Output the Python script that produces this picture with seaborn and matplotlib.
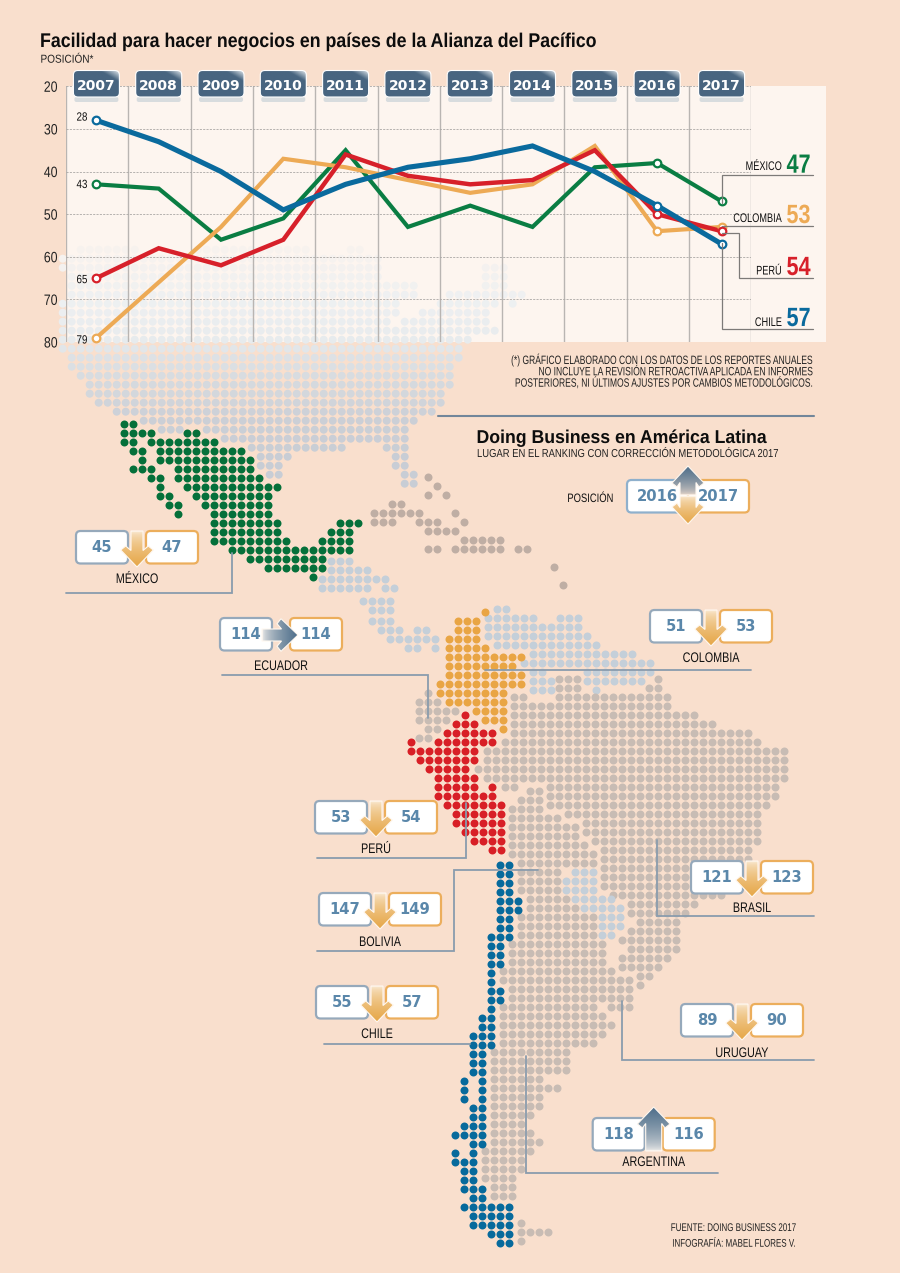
import numpy as np
import pandas as pd
import matplotlib
matplotlib.use("Agg")
import matplotlib.pyplot as plt
from matplotlib.patches import FancyBboxPatch, Polygon, Rectangle
from matplotlib.patheffects import AbstractPathEffect
from matplotlib.transforms import Affine2D
from matplotlib.colors import to_rgb
import seaborn as sns

# ---------- chart data ----------
YEARS = [2007, 2008, 2009, 2010, 2011, 2012, 2013, 2014, 2015, 2016, 2017]
MEXICO = [43, 44, 56, 51, 35, 53, 48, 53, 39, 38, 47]
COLOMBIA = [79, 66, 53, 37, 39, 42, 45, 43, 34, 54, 53]
PERU = [65, 58, 62, 56, 36, 41, 43, 42, 35, 50, 54]
CHILE = [28, 33, 40, 49, 43, 39, 37, 34, 40, 48, 57]
RANKINGS = [
    ("MÉXICO", 45, 47), ("ECUADOR", 114, 114), ("COLOMBIA", 51, 53), ("PERÚ", 53, 54),
    ("BOLIVIA", 147, 149), ("CHILE", 55, 57), ("BRASIL", 121, 123), ("URUGUAY", 89, 90),
    ("ARGENTINA", 118, 116),
]

# ---------- dot-map cells: {row: [(first column, last column), ...]} ----------
NORTH_AMERICA = {
    0: [(2, 8), (15, 27), (32, 33)], 1: [(0, 35)], 2: [(0, 35), (47, 49)], 3: [(1, 35), (47, 49)],
    4: [(1, 39), (47, 49)], 5: [(1, 39), (43, 51)], 6: [(0, 37), (42, 48), (50, 50)],
    7: [(0, 37), (40, 47)], 8: [(0, 36), (38, 47)], 9: [(0, 48)], 10: [(0, 45)], 11: [(0, 44)],
    12: [(1, 44)], 13: [(1, 43)], 14: [(2, 43)], 15: [(3, 43)], 16: [(3, 42)], 17: [(4, 42)],
    18: [(6, 41)], 19: [(9, 39)], 20: [(11, 13), (16, 38)], 21: [(18, 38)],
    22: [(21, 31), (36, 38)], 23: [(22, 25), (37, 38)], 24: [(22, 24), (37, 38)],
    25: [(23, 24), (38, 39)], 26: [(38, 39)],
}
MEXICO_CELLS = {
    0: [(0, 1)], 1: [(0, 3), (7, 8)], 2: [(0, 1), (3, 10)], 3: [(1, 2), (4, 13)], 4: [(2, 2), (4, 14)],
    5: [(1, 3), (6, 14)], 6: [(3, 4), (6, 15)], 7: [(4, 4), (7, 17)], 8: [(4, 5), (8, 16)],
    9: [(5, 6), (9, 16)], 10: [(6, 6), (10, 16)], 11: [(10, 17), (24, 26)], 12: [(10, 17), (23, 25)],
    13: [(10, 18), (22, 25)], 14: [(12, 25)], 15: [(14, 22)], 16: [(16, 22)], 17: [(21, 21)],
}
CENTRAL_A = {0: [(0, 2)], 1: [(0, 4)], 2: [(-1, 6)], 3: [(-1, 0), (1, 4), (6, 7)]}
CENTRAL_B = {0: [(-2, 1)], 1: [(-1, 1)]}
CENTRAL_C = {0: [(-1, 1)], 1: [(0, 2), (4, 5)], 2: [(1, 6)], 3: [(3, 4), (6, 6)]}
CARIBBEAN = {
    0: [(6, 6)], 1: [(7, 7)], 2: [(6, 6), (8, 8)], 3: [(2, 3)], 4: [(0, 5), (9, 9)],
    5: [(0, 2), (5, 7), (10, 10)], 6: [(6, 9)], 7: [(10, 14)], 8: [(6, 7), (9, 14), (16, 17)],
    10: [(20, 20)], 12: [(21, 21)],
}
COLOMBIA_CELLS = {
    -1: [(5, 5)], 0: [(2, 4)], 1: [(2, 4)], 2: [(1, 4)], 3: [(1, 5)], 4: [(1, 9)], 5: [(1, 8)],
    6: [(1, 9)], 7: [(0, 9)], 8: [(0, 7)], 9: [(1, 7)], 10: [(4, 7)], 11: [(5, 7)], 12: [(7, 7)],
}
NORTH_SA = {
    0: [(1, 2)], 1: [(0, 5), (8, 10)], 2: [(0, 10)], 3: [(0, 11)], 4: [(1, 12)], 5: [(5, 16)],
    6: [(4, 18)], 7: [(5, 6), (11, 18)], 8: [(5, 7), (11, 17)], 9: [(5, 7), (12, 12)],
}
ECUADOR_CELLS = {0: [(1, 1)], 1: [(0, 2)], 2: [(0, 4)], 3: [(0, 3)], 4: [(1, 2)], 5: [(0, 1)]}
PERU_CELLS = {
    0: [(6, 6)], 1: [(5, 7)], 2: [(4, 9)], 3: [(0, 0), (3, 9)], 4: [(0, 7)], 5: [(1, 7)], 6: [(2, 6)],
    7: [(3, 7)], 8: [(3, 7), (9, 9)], 9: [(3, 9)], 10: [(4, 10)], 11: [(5, 10)], 12: [(5, 10)],
    13: [(6, 10)], 14: [(7, 10)], 15: [(9, 10)],
}
BRAZIL_CELLS = {
    -3: [(5, 7), (16, 16)], -2: [(5, 7), (15, 16)], -1: [(0, 1), (5, 17)], 0: [(0, 17)], 1: [(0, 20)],
    2: [(0, 22)], 3: [(0, 26)], 4: [(-1, 27)], 5: [(-3, 30)], 6: [(-3, 30)], 7: [(-4, 30)], 8: [(-3, 30)],
    9: [(-1, 0), (4, 29)], 10: [(4, 29)], 11: [(4, 28)], 12: [(6, 27)], 13: [(8, 27)], 14: [(8, 27)],
    15: [(9, 27)], 16: [(10, 26)], 17: [(10, 26)], 18: [(10, 25)], 19: [(10, 25)], 20: [(10, 24)],
    21: [(11, 23)], 22: [(13, 20)], 23: [(13, 19)], 24: [(14, 18)], 25: [(13, 18)], 26: [(12, 18)],
    27: [(13, 18)], 28: [(12, 17)], 29: [(12, 16)], 30: [(14, 15)], 31: [(14, 14)],
}
SOUTH_CONE = {
    -6: [(2, 3)], -5: [(1, 3)], -4: [(0, 3)], -3: [(0, 5)], -2: [(0, 7)], -1: [(0, 7)], 0: [(0, 8)],
    1: [(0, 9)], 2: [(1, 9)], 3: [(1, 5)], 4: [(1, 5)], 5: [(1, 5)], 6: [(2, 6)], 7: [(2, 7)], 8: [(1, 9)],
    9: [(1, 9)], 10: [(1, 9)], 11: [(0, 10)], 12: [(0, 10)], 13: [(0, 10)], 14: [(-1, 11)],
    15: [(-1, 13)], 16: [(0, 13)], 17: [(0, 13)], 18: [(-1, 9), (11, 13)], 19: [(-1, 10)], 20: [(-1, 11)],
    21: [(-1, 10)], 22: [(-1, 9)], 23: [(-2, 6)], 24: [(-2, 6)], 25: [(-2, 6)], 26: [(-2, 3)],
    27: [(-2, 5)], 28: [(-2, 3)], 29: [(-2, 3)], 30: [(-2, 2)], 31: [(-2, 1)], 32: [(-2, 2)], 33: [(-2, 3)],
    34: [(-3, 2)], 35: [(-3, 1)], 36: [(-3, 1)], 37: [(-3, 0)], 38: [(-2, 0)], 39: [(-2, 0)],
    42: [(1, 1)], 43: [(1, 4)], 44: [(1, 1)],
}
PARAGUAY_CELLS = {3: [(7, 9)], 4: [(6, 9)], 5: [(6, 9)], 6: [(7, 11)], 7: [(8, 12)], 8: [(10, 12)],
                  9: [(10, 12)], 10: [(10, 11)]}
CHILE_CELLS = {
    0: [(1, 2)], 1: [(1, 2)], 2: [(1, 2)], 3: [(1, 2)], 4: [(1, 3)], 5: [(1, 3)], 6: [(1, 2)], 7: [(1, 2)],
    8: [(0, 2)], 9: [(0, 1)], 10: [(0, 1)], 11: [(0, 1)], 12: [(0, 0)], 13: [(0, 0)], 14: [(0, 1)],
    15: [(0, 1)], 16: [(0, 0)], 17: [(-1, 0)], 18: [(-1, 0)], 19: [(-2, 0)], 20: [(-2, 0)], 21: [(-2, -1)],
    22: [(-2, -1)], 23: [(-2, -1)], 24: [(-3, -3), (-1, -1)], 25: [(-3, -3), (-1, -1)],
    26: [(-3, -3), (-1, -1)], 27: [(-2, -1)], 28: [(-2, -1)], 29: [(-3, -1)], 30: [(-4, -1)], 31: [(-2, -1)],
    32: [(-4, -4), (-2, -2)], 33: [(-4, -2)], 34: [(-3, -2)], 35: [(-3, -2)], 36: [(-3, -1)], 37: [(-2, -1)],
    38: [(-3, 2)], 39: [(-2, 2)], 40: [(-2, 2)], 41: [(0, 2)], 42: [(1, 2)],
}

# ---------- style ----------
BG = "#f9dfcd"
PANEL = "#fdf5ef"
C_MX, C_CO, C_PE, C_CL = "#0a7d43", "#edaa55", "#d7202a", "#0a6a9d"
BROWN, CARIB, SLATE, DARK_GREEN = "#c8bcb4", "#bfaea4", "#c4cfd9", "#05703a"
SANS = ["Liberation Sans", "DejaVu Sans"]
BOLD = ["DejaVu Sans"]
NUM = "#5a87aa"
BLUE_EDGE, ORANGE_EDGE = "#96a9bb", "#ecae5c"
DOT = 33

sns.set_theme(style="white")
plt.rcParams["font.family"] = SANS
fig = plt.figure(figsize=(9, 12.73), dpi=100, facecolor=BG)


class Narrow(AbstractPathEffect):
    """Condense a text horizontally about its anchor (no narrow family is installed)."""

    def __init__(self, text, sx):
        super().__init__()
        self.text, self.sx = text, sx

    def draw_path(self, renderer, gc, tpath, affine, rgbFace=None):
        ax_px = self.text.get_transform().transform(self.text.get_unitless_position())[0]
        squeeze = Affine2D().translate(-ax_px, 0).scale(self.sx, 1).translate(ax_px, 0)
        renderer.draw_path(gc, tpath, affine + squeeze, rgbFace)


def narrow(t, sx):
    t.set_path_effects([Narrow(t, sx)])
    return t


# ---------- background map ----------
base = fig.add_axes([0, 0, 1, 1], zorder=0)
base.set_xlim(0, 900)
base.set_ylim(1273, 0)
base.axis("off")
base.add_patch(Rectangle((66, 86.3), 760, 255.5, fc=PANEL, ec="none", zorder=0))


def cells(table, x0, y0):
    pts = [(x0 + 9 * c, y0 + 9 * r) for r, runs in table.items() for a, b in runs for c in range(a, b + 1)]
    return pd.DataFrame(pts, columns=["x", "y"])


def dots(table, x0, y0, color):
    sns.scatterplot(data=cells(table, x0, y0), x="x", y="y", color=color, s=DOT, linewidth=0, ax=base,
                    legend=False, zorder=2)


def fade(y):
    stops_y = [245, 300, 345, 352, 420, 460]
    stops = [to_rgb(c) for c in ["#f8f2ee", "#eef0f1", "#e6eaed", "#dfe3e6", "#cbcfd6", "#c8cdd5"]]
    return tuple(np.interp(y, stops_y, [s[i] for s in stops]) for i in range(3))


na = cells(NORTH_AMERICA, 62.7, 249.7)
sns.scatterplot(data=na, x="x", y="y", hue="y", palette={v: fade(v) for v in na["y"].unique()}, s=DOT,
                linewidth=0, ax=base, legend=False, zorder=1)
dots(CENTRAL_A, 331, 560.7, SLATE)
dots(CENTRAL_B, 381.3, 600.7, SLATE)
dots(CENTRAL_C, 381.3, 621.3, SLATE)
dots(CARIBBEAN, 374, 477, CARIB)
dots(NORTH_SA, 488.3, 609.3, SLATE)
dots(ECUADOR_CELLS, 418.7, 692.7, BROWN)
dots(BRAZIL_CELLS, 514, 706, BROWN)
dots(SOUTH_CONE, 511.7, 844.7, BROWN)
dots(PARAGUAY_CELLS, 511.7, 844.7, SLATE)
dots(MEXICO_CELLS, 124, 423.7, DARK_GREEN)
dots(COLOMBIA_CELLS, 440, 621.3, "#e9a544")
dots(PERU_CELLS, 410.7, 714.7, "#d81f26")
dots(CHILE_CELLS, 491, 865, "#076a9c")
base.set_xlim(0, 900)
base.set_ylim(1273, 0)
base.set_xlabel("")
base.set_ylabel("")

# ---------- line chart ----------
ax = fig.add_axes([66 / 900, 1 - 342 / 1273, (751.3 - 66) / 900, (342 - 86.3) / 1273], zorder=1)
ax.patch.set_alpha(0)
idx = np.arange(len(YEARS), dtype=float)
idx[-1] += 0.035  # the last column of the original sits slightly right of the regular step
for name, vals, col, lw in [("México", MEXICO, C_MX, 3.0), ("Colombia", COLOMBIA, C_CO, 3.0),
                            ("Perú", PERU, C_PE, 3.2), ("Chile", CHILE, C_CL, 3.7)]:
    sns.lineplot(x=idx, y=vals, color=col, linewidth=lw, ax=ax, legend=False, errorbar=None,
                 solid_joinstyle="miter", zorder=3)
    picks = [0, 9, 10]
    sns.scatterplot(x=idx[picks], y=np.array(vals)[picks], color="white", edgecolor=col, linewidth=1.6,
                    s=30, ax=ax, legend=False, zorder=4, clip_on=False)
ax.set_xticks(np.arange(-0.488, 10.6, 1.0))
ax.set_xlim(-0.488, 10.512)
ax.set_ylim(80, 20)
ax.set_xticklabels([])
ax.set_yticks(range(20, 81, 10))
ax.tick_params(axis="both", length=0, pad=6)
ax.tick_params(axis="y", labelsize=10.8, labelcolor="#222222")
for lab in ax.get_yticklabels():
    narrow(lab, 0.82)
ax.grid(axis="x", color="#b9b5b2", lw=1)
ax.grid(axis="y", color="#aaa7a4", lw=0.6, ls=(0, (2.5, 1.5)))
ax.set_axisbelow(True)
for s in ax.spines.values():
    s.set_visible(False)
ax.set_xlabel("")
ax.set_ylabel("")
for series, dy in ((CHILE, 2.0), (MEXICO, -0.5), (PERU, -1.5), (COLOMBIA, -2.0)):
    narrow(ax.annotate(str(series[0]), (0, series[0]), xytext=(-6.5, dy), textcoords="offset points", ha="right",
                       va="center", fontsize=8.6, color="#111111", annotation_clip=False), 0.82)

# ---------- overlay ----------
top = fig.add_axes([0, 0, 1, 1], zorder=2)
top.patch.set_alpha(0)
top.axis("off")
top.set_xlim(0, 900)
top.set_ylim(1273, 0)


def T(x, y, s, sx=1.0, **kw):
    return narrow(top.text(x, y, s, **kw), sx)


def gradient_fill(patch, extent, c0, c1, direction, gamma=1.0):
    n = 64
    t = np.linspace(0, 1, n)
    xx, yy = np.meshgrid(t, t)
    w = {"y": yy, "yr": 1 - yy, "x": xx, "diag": np.clip((xx - yy - 0.58) / 0.42, 0, 1)}[direction] ** gamma
    a, b = np.array(to_rgb(c0)), np.array(to_rgb(c1))
    img = a[None, None, :] * (1 - w[..., None]) + b[None, None, :] * w[..., None]
    top.add_patch(patch)
    im = top.imshow(img, extent=extent, origin="upper", aspect="auto", zorder=patch.get_zorder() + 0.1,
                    interpolation="bilinear")
    im.set_clip_path(patch)


def arrow(cx, cy_tip, length, hw, shaft, kind, c0, c1, zorder=6):
    """Arrow outline in local (along, across) units; along runs from tail to tip."""
    outline = [(0, -shaft), (length - 16.5, -shaft), (length - 21, -hw + 5), (length - 17, -hw), (length, 0),
               (length - 17, hw), (length - 21, hw - 5), (length - 16.5, shaft), (0, shaft)]
    if kind == "down":
        pts = [(cx + s, cy_tip - length + a) for a, s in outline]
        ext, d = (cx - hw, cx + hw, cy_tip, cy_tip - length), "y"
    elif kind == "up":
        pts = [(cx + s, cy_tip + length - a) for a, s in outline]
        ext, d = (cx - hw, cx + hw, cy_tip + length, cy_tip), "yr"
    else:
        pts = [(cx - length + a, cy_tip + s) for a, s in outline]
        ext, d = (cx - length, cx, cy_tip + hw, cy_tip - hw), "x"
    p = Polygon(pts, closed=True, fc="none", ec="none", zorder=zorder)
    gradient_fill(p, ext, c0, c1, d, gamma=0.55)
    top.add_patch(Polygon(pts, closed=True, fc="none", ec="#fff8f0", lw=0.8, zorder=zorder + 0.3))


def box(x0, y0, x1, y1, text, edge, zorder=5):
    top.add_patch(FancyBboxPatch((x0, y0), x1 - x0, y1 - y0, boxstyle="round,pad=0,rounding_size=4.5",
                                 fc="white", ec=edge, lw=1.6, zorder=zorder))
    top.text((x0 + x1) / 2, (y0 + y1) / 2 + 0.5, text, ha="center", va="center", family=BOLD, weight="bold",
             fontsize=10.6, color=NUM, zorder=zorder + 0.5)


def rule(points, color="#8a9cad", lw=1.3):
    xs, ys = zip(*points)
    top.plot(xs, ys, color=color, lw=lw, solid_joinstyle="miter", zorder=4)


DOWN = ("#fbeedd", "#e6a748")
UP = ("#f8f4f0", "#4f6f8b")
layout = {
    "MÉXICO": (137, 531, 579, "down", [(231.7, 553), (231.7, 592.7), (66, 592.7)]),
    "ECUADOR": (281, 618, 666, "right", [(222, 675), (427.7, 675), (427.7, 718)]),
    "COLOMBIA": (711, 610, 658, "down", [(485, 670), (750.7, 670)]),
    "PERÚ": (376, 801, 849, "down", [(317, 858.3), (466, 858.3), (466, 803)]),
    "BOLIVIA": (380, 893, 942, "down", [(317, 950.7), (454.3, 950.7), (454.3, 870), (538, 870)]),
    "CHILE": (377, 986, 1034, "down", [(324, 1044), (470, 1044)]),
    "BRASIL": (752, 861, 908, "down", [(657.3, 840), (657.3, 916.3), (814, 916.3)]),
    "URUGUAY": (742, 1004, 1053, "down", [(622, 1001), (622, 1060), (814, 1060)]),
    "ARGENTINA": (653.7, 1118, 1162, "up", [(526, 1056), (526, 1172.7), (718, 1172.7)]),
}
for name, a, b in RANKINGS:
    cx, ytop, ylab, kind, path = layout[name]
    box(cx - 61, ytop, cx - 9, ytop + 32.5, str(a), BLUE_EDGE)
    box(cx + 9, ytop, cx + 61, ytop + 32.5, str(b), ORANGE_EDGE)
    if kind == "down":
        arrow(cx, ytop + 36, 36, 16.3, 6, kind, *DOWN)
    elif kind == "up":
        arrow(cx, ytop - 11, 44, 16.3, 8, kind, *UP)
    else:
        arrow(cx + 17, ytop + 17, 36, 16.3, 6, kind, *UP)
    T(cx, ylab, name, sx=0.775, ha="center", va="center", fontsize=10, color="#111111", zorder=5)
    rule(path)

# legend of the position boxes
T(590.5, 499, "POSICIÓN", sx=0.77, ha="center", va="center", fontsize=8.8, color="#111111")
box(627, 480, 688, 512.5, "2016", "#8fb0cc")
box(688, 480, 749, 512.5, "2017", ORANGE_EDGE)
arrow(688, 466, 29, 16, 8, "up", "#f3dfd0", "#4f6f8b")
arrow(688, 524, 28, 16, 8, "down", "#fbeedd", "#e6a748")

# year badges
for i, yr in enumerate(YEARS):
    cx = ax.transData.transform((idx[i], 50))[0]
    top.add_patch(FancyBboxPatch((cx - 22, 97), 44, 5, boxstyle="round,pad=0,rounding_size=2", fc="#c9d2d8",
                                 ec="none", alpha=0.7, zorder=5))
    p = FancyBboxPatch((cx - 23, 70.5), 46, 26.5, boxstyle="round,pad=0,rounding_size=4.5", fc="none", ec="none",
                       zorder=6)
    gradient_fill(p, (cx - 23, cx + 23, 97, 70.5), "#486580", "#e6ebef", "diag")
    top.add_patch(FancyBboxPatch((cx - 23, 70.5), 46, 26.5, boxstyle="round,pad=0,rounding_size=4.5", fc="none",
                                 ec="white", lw=0.8, zorder=6.4))
    top.text(cx, 86.5, str(yr), ha="center", va="center", family=BOLD, weight="bold", fontsize=10, color="white",
             zorder=7)

# end-of-line labels
for pts in ([(721.7, 203), (721.7, 175), (813.3, 175)], [(721.7, 226), (813.3, 226)],
            [(721.7, 233.4), (739.3, 233.4), (739.3, 278), (813.3, 278)], [(721.7, 243), (721.7, 329.3), (813.3, 329.3)]):
    rule(pts, color="#7d7a78", lw=0.9)
for label, val, col, ylab, ynum in [("MÉXICO", MEXICO[-1], C_MX, 170, 172.7), ("COLOMBIA", COLOMBIA[-1], C_CO, 222, 223),
                                    ("PERÚ", PERU[-1], C_PE, 274.5, 275), ("CHILE", CHILE[-1], C_CL, 326, 326)]:
    T(781.7, ylab, label, sx=0.735, ha="right", va="baseline", fontsize=9, color="#111111", zorder=5)
    T(810.5, ynum, str(val), sx=0.82, ha="right", va="baseline", fontsize=19, weight="bold", color=col, zorder=5)

# texts
T(40, 47, "Facilidad para hacer negocios en países de la Alianza del Pacífico", sx=0.895, ha="left", va="baseline",
  fontsize=14.3, weight="bold", color="#0d0d0d")
T(40.5, 62.7, "POSICIÓN*", sx=0.87, ha="left", va="baseline", fontsize=8.3, color="#222222")
for y, line in [(364, "(*) GRÁFICO ELABORADO CON LOS DATOS DE LOS REPORTES ANUALES"),
                (375.3, "NO INCLUYE LA REVISIÓN RETROACTIVA APLICADA EN INFORMES"),
                (386.7, "POSTERIORES, NI ÚLTIMOS AJUSTES POR CAMBIOS METODOLÓGICOS.")]:
    T(814.5, y, line, sx=0.705, ha="right", va="baseline", fontsize=8.7, color="#222222")
rule([(438, 415.5), (814, 415.5)], color="#72869a", lw=1.5)
T(476.5, 443, "Doing Business en América Latina", sx=0.95, ha="left", va="baseline", fontsize=13.4, weight="bold",
  color="#0d0d0d")
T(477, 457, "LUGAR EN EL RANKING CON CORRECCIÓN METODOLÓGICA 2017", sx=0.82, ha="left", va="baseline", fontsize=8.3,
  color="#222222")
T(795.7, 1231, "FUENTE: DOING BUSINESS 2017", sx=0.72, ha="right", va="baseline", fontsize=8, color="#222222")
T(795, 1246.7, "INFOGRAFÍA: MABEL FLORES V.", sx=0.72, ha="right", va="baseline", fontsize=8, color="#222222")

top.set_xlim(0, 900)
top.set_ylim(1273, 0)
fig.savefig("out.png", dpi=100, facecolor=BG)
